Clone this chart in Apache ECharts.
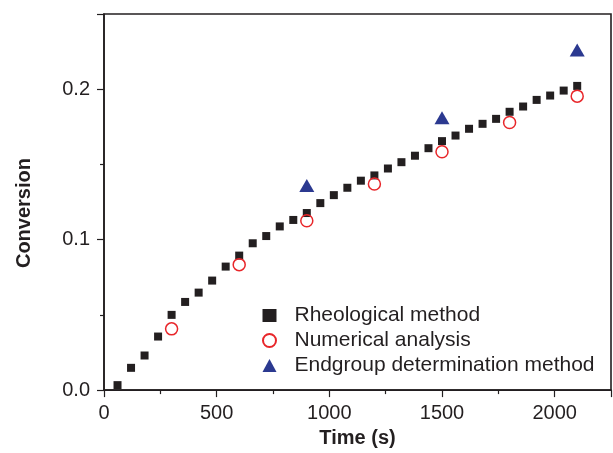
<!DOCTYPE html>
<html>
<head>
<meta charset="utf-8">
<script src="https://cdn.jsdelivr.net/npm/echarts@6/dist/echarts.min.js"></script>
<style>html,body{margin:0;padding:0;background:#fff}#c{width:613px;height:453px}</style>
</head>
<body>
<div id="c"></div>
<script>
var rheoTime = [60,120,180,240,300,360,420,480,540,600,660,720,780,840,900,960,1020,1080,1140,1200,1260,1320,1380,1440,1500,1560,1620,1680,1740,1800,1860,1920,1980,2040,2100];
var rheoConv = [0.0033,0.0148,0.023,0.0356,0.050,0.0586,0.0648,0.0728,0.0821,0.0894,0.0976,0.1024,0.1088,0.1131,0.1177,0.1243,0.1296,0.1345,0.1392,0.1427,0.1473,0.1515,0.1558,0.1608,0.1655,0.1692,0.1737,0.177,0.1803,0.185,0.1885,0.1929,0.1958,0.1991,0.2022];
var numTime = [300,600,900,1200,1500,1800,2100];
var numConv = [0.0407,0.0834,0.1126,0.137,0.1584,0.1779,0.1954];
var endTime = [900,1500,2100];
var endConv = [0.136,0.181,0.226];
var seriesNames = ['Rheological method','Numerical analysis','Endgroup determination method'];

function pairs(x, y){ return x.map(function(v,i){ return [v, y[i]]; }); }
var ink = '#231f20';
var font = 'Liberation Sans, Arial, Helvetica, sans-serif';
var chart = echarts.init(document.getElementById('c'), null, {renderer:'canvas'});
var axisCommon = {
  axisLine:{show:true, lineStyle:{color:ink, width:1.6}},
  axisTick:{show:true, inside:false, length:7, lineStyle:{color:ink, width:1.2}},
  minorTick:{show:true, splitNumber:2, length:4, lineStyle:{color:ink, width:1.2}},
  splitLine:{show:false},
  axisLabel:{color:ink, fontSize:20, fontFamily:font},
  nameTextStyle:{color:ink, fontSize:20, fontWeight:'bold', fontFamily:font}
};
chart.setOption({
  animation:false,
  backgroundColor:'#fff',
  grid:{left:104, right:2, top:14, bottom:62, show:true, borderColor:ink, borderWidth:1.6, containLabel:false},
  xAxis:Object.assign({}, axisCommon, {
    type:'value', min:0, max:2250, interval:500,
    name:'Time (s)', nameLocation:'middle', nameGap:36,
    axisLabel:Object.assign({}, axisCommon.axisLabel, {margin:13, showMaxLabel:false, formatter:function(v){return String(v);}})
  }),
  yAxis:Object.assign({}, axisCommon, {
    type:'value', min:0, max:0.25, interval:0.1,
    name:'Conversion', nameLocation:'middle', nameGap:70,
    nameTextStyle:Object.assign({}, axisCommon.nameTextStyle, {padding:[0,0,0,-22]}),
    axisLabel:Object.assign({}, axisCommon.axisLabel, {margin:14, showMaxLabel:false, formatter:function(v){return v.toFixed(1);}})
  }),
  legend:{
    orient:'vertical', left:257, top:300, itemWidth:14, itemHeight:13, itemGap:4,
    textStyle:{color:ink, fontSize:21, fontFamily:font, padding:[0,0,0,13]},
    data:[
      {name:seriesNames[0], icon:'rect'},
      {name:seriesNames[1], icon:'circle'},
      {name:seriesNames[2], icon:'triangle'}
    ]
  },
  series:[
    {name:seriesNames[0], type:'scatter', symbol:'rect', symbolSize:8, data:pairs(rheoTime, rheoConv), itemStyle:{color:ink, opacity:1}},
    {name:seriesNames[1], type:'scatter', symbol:'circle', symbolSize:12, data:pairs(numTime, numConv), itemStyle:{color:'rgba(255,255,255,0)', borderColor:'#e8262a', borderWidth:1.5, opacity:1}},
    {name:seriesNames[2], type:'scatter', symbol:'triangle', symbolSize:[15,13], data:pairs(endTime, endConv), itemStyle:{color:'#2b3990', opacity:1}}
  ]
});
</script>
</body>
</html>
